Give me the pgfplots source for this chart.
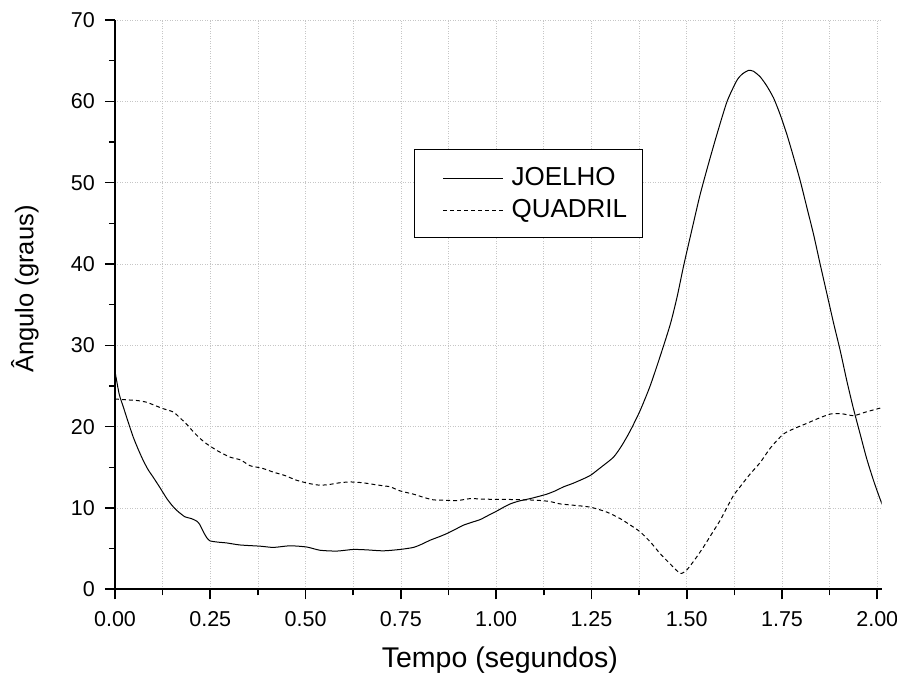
\documentclass[border=0pt]{standalone}
\usepackage{fontspec}
\setmainfont{Liberation Sans}
\usepackage{pgfplots}
\pgfplotsset{compat=1.18}
\begin{document}
\begin{tikzpicture}
\begin{axis}[
  scale only axis,
  width=766.7pt, height=569.3pt,
  xmin=0, xmax=2.0116, ymin=0, ymax=70,
  axis lines*=left,
  axis line style={line width=1.6pt, black},
  xtick={0,0.25,0.5,0.75,1,1.25,1.5,1.75,2},
  minor x tick num=1,
  ytick={0,10,20,30,40,50,60,70},
  minor y tick num=1,
  tick align=outside,
  major tick length=10pt, minor tick length=6pt,
  every tick/.style={black, line width=1.6pt},
  xmajorgrids, xminorgrids, ymajorgrids,
  major grid style={gray!45, line width=0.7pt, dash pattern=on 1pt off 1.5pt},
  minor grid style={gray!45, line width=0.7pt, dash pattern=on 1pt off 1.5pt},
  /pgf/number format/assume math mode=true,
  xticklabel style={/pgf/number format/fixed, /pgf/number format/fixed zerofill, /pgf/number format/precision=2, inner sep=0pt},
  yticklabel style={inner sep=0pt},
  xticklabel shift=12pt, yticklabel shift=10pt,
  tick label style={font=\fontsize{21.5}{25}\selectfont},
  xlabel={Tempo (segundos)},
  ylabel={Ângulo (graus)},
  xlabel style={font=\fontsize{28.5}{33}\selectfont, at={(axis description cs:0.502,-0.137)}, anchor=base, inner sep=0pt},
  ylabel style={font=\fontsize{25.5}{30}\selectfont, at={(axis description cs:-0.1066,0.5275)}, anchor=base, rotate=0, inner sep=0pt},
  legend style={at={(axis description cs:0.390,0.7734)}, anchor=north west,
    draw=black, line width=0.8pt, fill=white,
    font=\fontsize{26}{30}\selectfont,
    inner xsep=15.5pt, inner ysep=18pt, row sep=12.5pt, column sep=7.7pt,
    nodes={inner sep=0pt}},
  legend cell align=left,
  legend image code/.code={\path (-13pt,0pt); \draw[#1, line width=1pt] (0pt,-1pt) -- (60pt,-1pt);},
]
\addplot[black, line width=1pt, smooth, tension=0.4] coordinates {
(0.000,26.8) (0.011,24.0) (0.022,22.4) (0.035,20.5) (0.048,18.7) (0.061,17.2)
(0.074,15.85) (0.087,14.7) (0.100,13.8) (0.118,12.5) (0.136,11.15) (0.150,10.3)
(0.162,9.7) (0.175,9.2) (0.184,8.9) (0.200,8.7) (0.214,8.4) (0.222,8.0)
(0.232,7.06) (0.240,6.4) (0.249,5.96) (0.270,5.8) (0.293,5.7) (0.328,5.45)
(0.381,5.3) (0.416,5.15) (0.459,5.35) (0.503,5.2) (0.538,4.8) (0.582,4.7)
(0.625,4.9) (0.660,4.85) (0.704,4.73) (0.748,4.9) (0.783,5.15) (0.805,5.55)
(0.827,6.04) (0.850,6.45) (0.871,6.86) (0.892,7.35) (0.914,7.88) (0.937,8.25)
(0.958,8.57) (0.980,9.1) (1.002,9.63) (1.020,10.1) (1.037,10.5) (1.060,10.85)
(1.089,11.15) (1.110,11.4) (1.133,11.7) (1.155,12.1) (1.177,12.6) (1.200,13.0)
(1.220,13.4) (1.247,14.0) (1.275,15.0) (1.308,16.25) (1.330,17.7) (1.352,19.5)
(1.378,22.0) (1.404,25.0) (1.430,28.6) (1.457,32.6) (1.475,36.0) (1.492,39.8)
(1.515,44.5) (1.535,48.5) (1.557,52.3) (1.579,55.9) (1.606,60.0) (1.632,62.6)
(1.647,63.4) (1.662,63.8) (1.675,63.7) (1.693,63.0) (1.710,61.9) (1.728,60.4)
(1.745,58.4) (1.763,55.9) (1.780,53.2) (1.798,50.2) (1.815,47.0) (1.833,43.6)
(1.850,40.0) (1.868,36.3) (1.885,32.8) (1.903,29.3) (1.920,25.65) (1.937,22.3)
(1.955,19.1) (1.972,16.1) (1.990,13.4) (2.005,11.4) (2.017,9.9)
};
\addlegendentry{JOELHO}
\addplot[black, line width=1pt, dash pattern=on 4pt off 3pt, smooth, tension=0.4] coordinates {
(0.000,23.4) (0.030,23.3) (0.060,23.2) (0.083,23.0) (0.105,22.6) (0.127,22.2)
(0.153,21.8) (0.170,21.1) (0.188,20.3) (0.205,19.4) (0.222,18.6) (0.240,17.9)
(0.270,17.0) (0.302,16.25) (0.330,15.9) (0.354,15.2) (0.385,14.9) (0.416,14.4)
(0.445,14.0) (0.477,13.4) (0.510,13.0) (0.538,12.8) (0.564,12.9) (0.590,13.1)
(0.617,13.2) (0.650,13.1) (0.678,12.9) (0.700,12.75) (0.722,12.6) (0.748,12.1)
(0.783,11.7) (0.810,11.3) (0.835,11.0) (0.865,10.95) (0.897,10.9) (0.932,11.15)
(0.960,11.1) (0.984,11.07) (1.020,11.05) (1.054,11.03) (1.107,10.95) (1.140,10.8)
(1.168,10.5) (1.200,10.35) (1.247,10.1) (1.290,9.5) (1.325,8.7) (1.352,7.9)
(1.378,7.06) (1.405,5.8) (1.430,4.4) (1.457,3.1) (1.483,1.96) (1.500,2.37)
(1.522,3.7) (1.544,5.2) (1.566,6.85) (1.588,8.5) (1.606,10.1) (1.623,11.55)
(1.640,12.6) (1.665,14.1) (1.693,15.6) (1.720,17.4) (1.754,19.1) (1.789,19.9)
(1.815,20.4) (1.842,20.95) (1.877,21.55) (1.905,21.6) (1.938,21.35) (1.970,21.8)
(2.017,22.4)
};
\addlegendentry{QUADRIL}
\end{axis}
\pgfresetboundingbox
\path[use as bounding box] (-115pt,-87.7pt) rectangle (782pt,589.3pt);
\end{tikzpicture}
\end{document}
